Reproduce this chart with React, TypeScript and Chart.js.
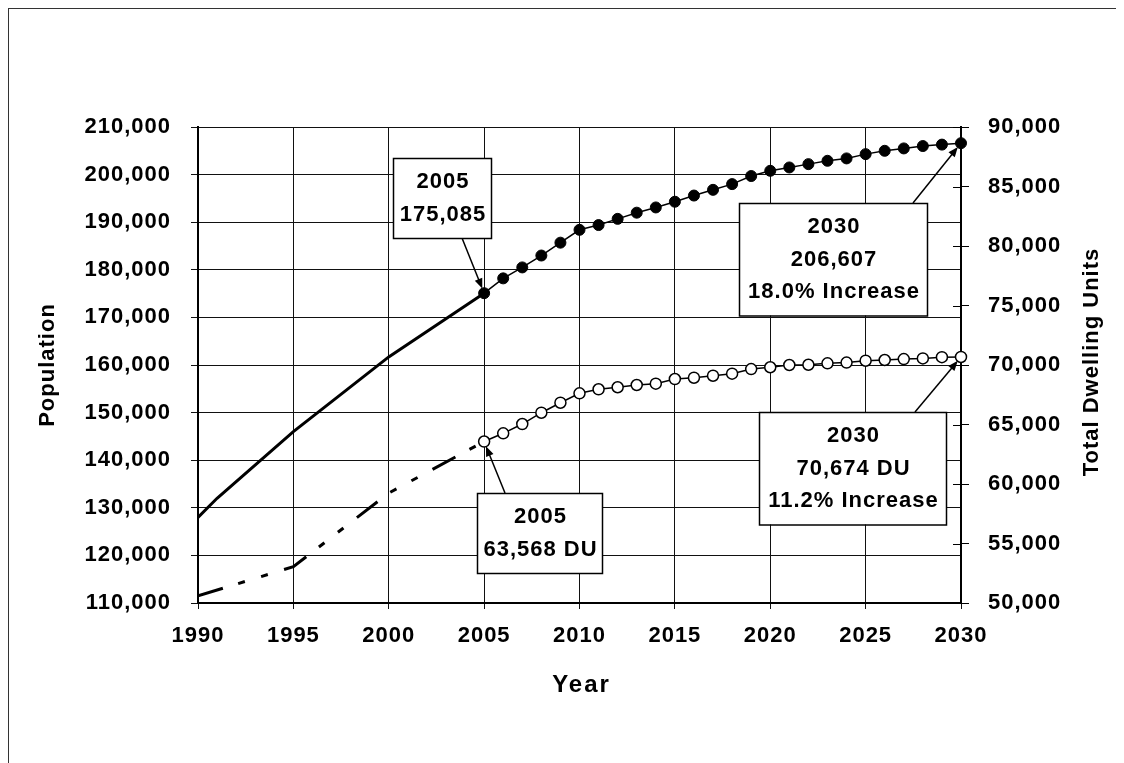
import React, { useEffect, useRef } from "react";
import { Chart, registerables } from "chart.js";

Chart.register(...registerables);

// ---------- data ----------
const xTickYears = [1990, 1995, 2000, 2005, 2010, 2015, 2020, 2025, 2030];

const popHistYears = [1990, 1991, 1995, 2000, 2005];
const popHistValues = [128000, 132000, 146000, 161700, 175085];

const projYears = [
  2005, 2006, 2007, 2008, 2009, 2010, 2011, 2012, 2013, 2014, 2015, 2016, 2017,
  2018, 2019, 2020, 2021, 2022, 2023, 2024, 2025, 2026, 2027, 2028, 2029, 2030,
];
const popProjValues = [
  175085, 178200, 180500, 183000, 185700, 188400, 189400, 190700, 192000, 193100,
  194300, 195600, 196800, 198000, 199700, 200800, 201500, 202200, 202900, 203400,
  204300, 205000, 205500, 206000, 206300, 206607,
];

const duHistYears = [1990, 1995, 2000, 2005];
const duHistValues = [50600, 53050, 59240, 63568];

const duProjValues = [
  63568, 64260, 65040, 65990, 66830, 67620, 67960, 68130, 68320, 68430, 68820,
  68930, 69100, 69270, 69660, 69810, 70000, 70020, 70140, 70200, 70360, 70420,
  70500, 70550, 70660, 70674,
];

const popTicks = [110000, 120000, 130000, 140000, 150000, 160000, 170000, 180000, 190000, 200000, 210000];
const duTicks = [50000, 55000, 60000, 65000, 70000, 75000, 80000, 85000, 90000];

// ---------- helpers ----------
const FONT = '"Liberation Sans", Arial, Helvetica, sans-serif';
const fmt = (v: number) => v.toLocaleString("en-US");
const pts = (xs: number[], ys: number[]) => xs.map((x, i) => ({ x, y: ys[i] }));

const popBase = popProjValues[0];
const popEnd = popProjValues[popProjValues.length - 1];
const duBase = duProjValues[0];
const duEnd = duProjValues[duProjValues.length - 1];
const pct = (a: number, b: number) => ((b / a - 1) * 100).toFixed(1) + "% Increase";

type Note = {
  lines: string[];
  box: [number, number, number]; // left, top, width (canvas px)
  from: [number, number];
  year: number;
  value: number;
  axis: "y" | "y1";
};

const notes: Note[] = [
  {
    lines: [String(projYears[0]), fmt(popBase)],
    box: [385, 150, 98],
    from: [454, 230],
    year: projYears[0],
    value: popBase,
    axis: "y",
  },
  {
    lines: [String(projYears[projYears.length - 1]), fmt(popEnd), pct(popBase, popEnd)],
    box: [731, 195, 188],
    from: [905, 195],
    year: projYears[projYears.length - 1],
    value: popEnd,
    axis: "y",
  },
  {
    lines: [String(projYears[projYears.length - 1]), fmt(duEnd) + " DU", pct(duBase, duEnd)],
    box: [751, 404, 187],
    from: [907, 404],
    year: projYears[projYears.length - 1],
    value: duEnd,
    axis: "y1",
  },
  {
    lines: [String(projYears[0]), fmt(duBase) + " DU"],
    box: [469, 485, 125],
    from: [497, 485],
    year: projYears[0],
    value: duBase,
    axis: "y1",
  },
];

const overlayPlugin = {
  id: "overlay",
  beforeDraw(chart: any) {
    chart.ctx.letterSpacing = "1px";
  },
  afterDatasetsDraw(chart: any) {
    const ctx: CanvasRenderingContext2D = chart.ctx;
    const xs = chart.scales.x;
    ctx.save();
    (ctx as any).letterSpacing = "1px";
    for (const n of notes) {
      const ys = chart.scales[n.axis];
      const tx = xs.getPixelForValue(n.year);
      const ty = ys.getPixelForValue(n.value);
      const [fx, fy] = n.from;
      const ang = Math.atan2(ty - fy, tx - fx);
      const ex = tx - Math.cos(ang) * 5;
      const ey = ty - Math.sin(ang) * 5;
      // arrow line
      ctx.strokeStyle = "#000";
      ctx.lineWidth = 1.5;
      ctx.beginPath();
      ctx.moveTo(fx, fy);
      ctx.lineTo(ex - Math.cos(ang) * 6, ey - Math.sin(ang) * 6);
      ctx.stroke();
      // arrow head
      const hl = 10;
      const hw = 4;
      ctx.fillStyle = "#000";
      ctx.beginPath();
      ctx.moveTo(ex, ey);
      ctx.lineTo(
        ex - Math.cos(ang) * hl + Math.sin(ang) * hw,
        ey - Math.sin(ang) * hl - Math.cos(ang) * hw
      );
      ctx.lineTo(
        ex - Math.cos(ang) * hl - Math.sin(ang) * hw,
        ey - Math.sin(ang) * hl + Math.cos(ang) * hw
      );
      ctx.closePath();
      ctx.fill();
      // box
      const [bl, bt, bw] = n.box;
      const bh = 15 + n.lines.length * 32.5;
      ctx.fillStyle = "#fff";
      ctx.fillRect(bl, bt, bw, bh);
      ctx.strokeStyle = "#000";
      ctx.lineWidth = 1.5;
      ctx.strokeRect(bl + 0.5, bt + 0.5, bw, bh);
      ctx.fillStyle = "#000";
      ctx.font = `bold 22px ${FONT}`;
      ctx.textAlign = "center";
      ctx.textBaseline = "middle";
      n.lines.forEach((t, i) => {
        ctx.fillText(t, bl + bw / 2 + 1, bt + 24 + i * 32.5);
      });
    }
    ctx.restore();
  },
  afterDraw(chart: any) {
    const ctx: CanvasRenderingContext2D = chart.ctx;
    const y1 = chart.scales.y1;
    const area = chart.chartArea;
    ctx.save();
    // inward ticks on right axis
    ctx.strokeStyle = "#000";
    ctx.lineWidth = 1;
    for (const t of duTicks) {
      const py = Math.round(y1.getPixelForValue(t)) + 0.5;
      ctx.beginPath();
      ctx.moveTo(area.right - 8, py);
      ctx.lineTo(area.right, py);
      ctx.stroke();
    }
    ctx.fillStyle = "#000";
    ctx.textAlign = "center";
    ctx.textBaseline = "middle";
    // Year
    (ctx as any).letterSpacing = "2px";
    ctx.font = `bold 24px ${FONT}`;
    ctx.fillText("Year", (area.left + area.right) / 2 + 2, 677);
    // Population
    (ctx as any).letterSpacing = "1px";
    ctx.font = `bold 22px ${FONT}`;
    ctx.save();
    ctx.translate(40, (area.top + area.bottom) / 2);
    ctx.rotate(-Math.PI / 2);
    ctx.fillText("Population", 0, 0);
    ctx.restore();
    // Total Dwelling Units
    ctx.save();
    ctx.translate(1084, (area.top + area.bottom) / 2 - 3);
    ctx.rotate(-Math.PI / 2);
    ctx.fillText("Total Dwelling Units", 0, 0);
    ctx.restore();
    ctx.restore();
  },
};

export default function App() {
  const ref = useRef<HTMLCanvasElement | null>(null);

  useEffect(() => {
    if (!ref.current) return;
    const tickFont = { family: FONT, size: 22, weight: "bold" as const };
    const chart = new Chart(ref.current, {
      type: "line",
      data: {
        datasets: [
          {
            label: "Population projection",
            data: pts(projYears, popProjValues),
            yAxisID: "y",
            borderColor: "#000",
            borderWidth: 1.5,
            pointRadius: 5.5,
            pointBackgroundColor: "#000",
            pointBorderColor: "#000",
            pointBorderWidth: 1,
            tension: 0,
            clip: false as any,
          },
          {
            label: "Dwelling units projection",
            data: pts(projYears, duProjValues),
            yAxisID: "y1",
            borderColor: "#000",
            borderWidth: 1.5,
            pointRadius: 5.5,
            pointBackgroundColor: "#fff",
            pointBorderColor: "#000",
            pointBorderWidth: 1.5,
            tension: 0,
            clip: false as any,
          },
          {
            label: "Population history",
            data: pts(popHistYears, popHistValues),
            yAxisID: "y",
            borderColor: "#000",
            borderWidth: 3,
            pointRadius: 0,
            tension: 0,
          },
          {
            label: "Dwelling units history",
            data: pts(duHistYears, duHistValues),
            yAxisID: "y1",
            borderColor: "#000",
            borderWidth: 3,
            borderDash: [26, 16, 7, 17, 7, 17],
            borderCapStyle: "butt",
            pointRadius: 0,
            tension: 0,
          },
        ],
      },
      options: {
        animation: false,
        responsive: false,
        devicePixelRatio: 1,
        layout: { padding: { top: 119, left: 0, right: 0, bottom: 0 } },
        plugins: {
          legend: { display: false },
          tooltip: { enabled: false },
        },
        scales: {
          x: {
            type: "linear",
            min: xTickYears[0],
            max: xTickYears[xTickYears.length - 1],
            afterBuildTicks: (s: any) => {
              s.ticks = xTickYears.map((v) => ({ value: v }));
            },
            ticks: {
              color: "#000",
              font: tickFont,
              padding: 14,
              maxRotation: 0,
              callback: (v: any) => String(v),
            },
            grid: { color: "#111", lineWidth: 1, tickLength: 6 },
            border: { color: "#000", width: 2 },
            afterFit: (s: any) => {
              s.height = 160;
            },
          },
          y: {
            position: "left",
            min: popTicks[0],
            max: popTicks[popTicks.length - 1],
            afterBuildTicks: (s: any) => {
              s.ticks = popTicks.map((v) => ({ value: v }));
            },
            ticks: {
              color: "#000",
              font: tickFont,
              padding: 20,
              callback: (v: any) => fmt(Number(v)),
            },
            grid: { color: "#111", lineWidth: 1, tickLength: 7 },
            border: { color: "#000", width: 2 },
            afterFit: (s: any) => {
              s.width = 190;
            },
          },
          y1: {
            position: "right",
            min: duTicks[0],
            max: duTicks[duTicks.length - 1],
            afterBuildTicks: (s: any) => {
              s.ticks = duTicks.map((v) => ({ value: v }));
            },
            ticks: {
              color: "#000",
              font: tickFont,
              padding: 19,
              callback: (v: any) => fmt(Number(v)),
            },
            grid: { drawOnChartArea: false, color: "#000", tickLength: 8 },
            border: { color: "#000", width: 2 },
            afterFit: (s: any) => {
              s.width = 163;
            },
          },
        },
      },
      plugins: [overlayPlugin],
    } as any);
    return () => chart.destroy();
  }, []);

  return (
    <div style={{ position: "relative", width: 1116, height: 755, background: "#fff" }}>
      <div
        style={{
          position: "absolute",
          left: 0,
          top: 0,
          right: 0,
          bottom: 0,
          borderTop: "1px solid #333",
          borderLeft: "1px solid #333",
          boxSizing: "border-box",
        }}
      />
      <canvas
        ref={ref}
        width={1116}
        height={755}
        style={{ position: "absolute", left: 0, top: 0, width: 1116, height: 755 }}
      />
    </div>
  );
}
